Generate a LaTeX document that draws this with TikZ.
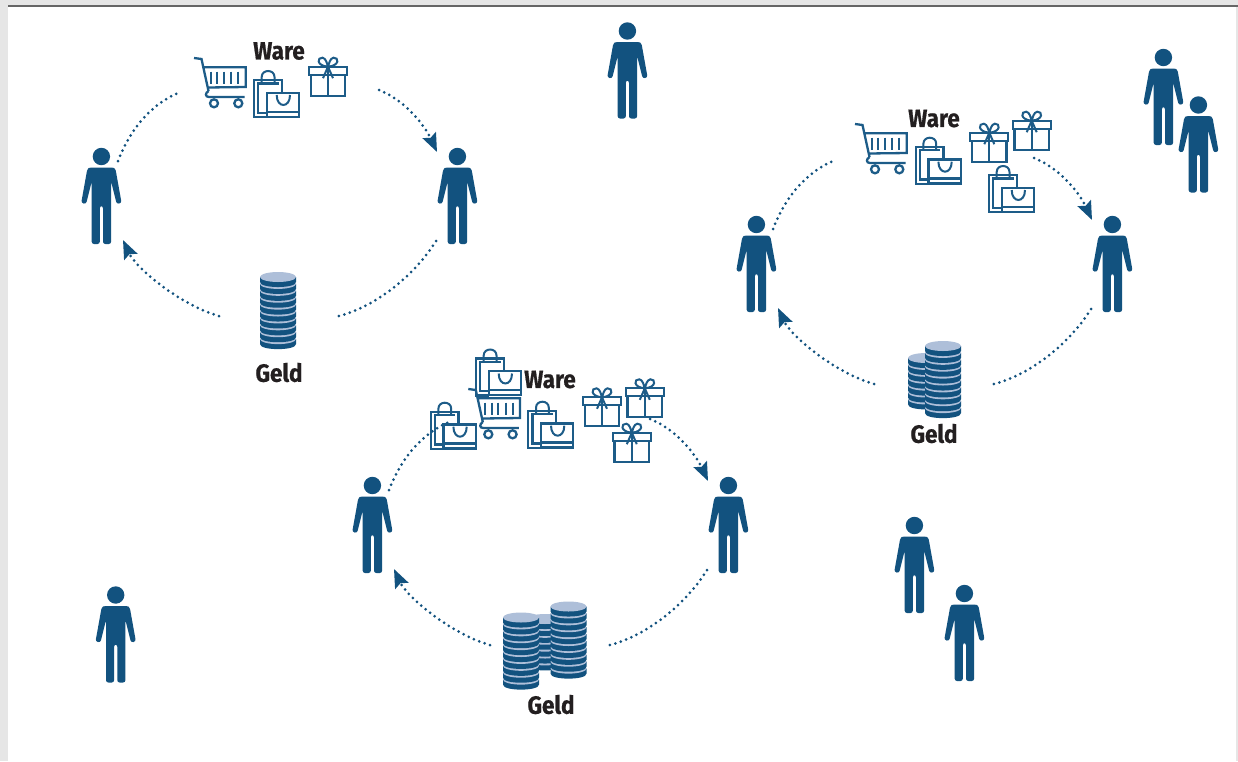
\documentclass[tikz,border=0pt]{standalone}
\usepackage{fontspec}
\setmainfont{Fira Sans}[FakeStretch=0.9,BoldFeatures={FakeBold=0.6}]
\usetikzlibrary{arrows.meta}
\definecolor{fig}{HTML}{12527F}
\definecolor{figline}{HTML}{1D5C88}
\definecolor{coinlight}{HTML}{AEBFD9}
\definecolor{pagegray}{HTML}{E6E6E6}
\definecolor{inkblack}{HTML}{231F20}
\tikzset{
  person/.pic={
    \fill[fig] (0,0) circle (8.7);
    \fill[fig,rounded corners=2.3pt]
      (-11,11) -- (-14,12) -- (-20.2,46.5) -- (-15.3,47.5) -- (-9.7,25) -- (-9.7,87.5) -- (-1.6,87.5) -- (-1.6,49.5)
      -- (1.6,49.5) -- (1.6,87.5) -- (9.7,87.5) -- (9.7,25) -- (15.3,47.5) -- (20.2,46.5) -- (14,12) -- (11,11) -- cycle;
  },
  icon/.style={draw=figline,line width=2.3pt,line join=miter},
  cart/.pic={
    \draw[icon] (0,0) -- (7.5,1) -- (14.5,33) (10,9.3) -- (51.7,9.3) -- (51.7,29) -- (13.5,29.5);
    \draw[icon] (14.5,33) .. controls (11,35) and (11,39) .. (15,39) -- (50.5,39);
    \draw[icon] (20,45.3) circle (4) (44.3,45.3) circle (4);
    \foreach \x in {16.7,23.3,30,37.3,44.3} \draw[icon,line width=2.1pt] (\x,13.7) -- (\x,26);
  },
  bag/.pic={
    \draw[icon] (12.7,37) -- (0,37) -- (0,0) -- (27.7,0) -- (27.7,12.7);
    \draw[icon] (12.7,32.8) -- (4.3,32.8) -- (4.3,3.6) -- (24.5,3.6);
    \draw[icon,line width=2pt] (7.7,3.6) -- (7.7,-3) .. controls (7.7,-11) and (20.5,-11) .. (20.5,-3) -- (20.5,3.6);
    \draw[icon,fill=white] (12.7,12.7) rectangle (45,36.7);
    \draw[icon] (12.7,31.7) -- (45,31.7);
    \draw[icon,line width=2pt] (22.7,15) .. controls (22.7,28.3) and (36,28.3) .. (36,15);
  },
  gift/.pic={
    \draw[icon,fill=white] (-17.3,8) rectangle (17.3,29);
    \draw[icon,fill=white] (-19,0) rectangle (19,8);
    \draw[icon] (0,0) -- (0,29);
    \draw[icon,line width=2pt] (0,0) .. controls (-12,-1) and (-11,-9.5) .. (-5.5,-9) .. controls (-2,-8.5) and (-1,-3) .. (0,0)
       .. controls (1,-3) and (2,-8.5) .. (5.5,-9) .. controls (11,-9.5) and (12,-1) .. (0,0) -- (-5,11.5) (0,0) -- (5,11.5);
  },
  coindisc/.pic={
    \fill[fig] (-18,0) -- (-18,5) .. controls (-18,11.7) and (18,11.7) .. (18,5) -- (18,0) -- cycle;
    \fill[coinlight] (0,0) ellipse (18 and 5);
  },
}
\newcommand{\coinstack}[4]{% x, y of top face, disc count, name
  \coordinate (#4) at (#1,#2);
  \foreach \i in {#3,...,1} {
    \pic at ([yshift=-{(\i-1)*6.9pt}]#4) {coindisc};
  }
}
\tikzset{
  flow/.style={draw=fig,line width=3pt,line cap=round,dash pattern=on 0pt off 5.7pt},
  flowarrow/.style={flow,-{Stealth[length=18.5pt,width=14.5pt,inset=3pt]}},
  label/.style={font=\bfseries\fontsize{25}{25}\selectfont,text=inkblack,inner sep=0pt},
}
\begin{document}
\begin{tikzpicture}[x=1pt,y=-1pt]
\useasboundingbox (0,0) rectangle (1238,761);
\fill[white] (0,0) rectangle (1238,761);
\fill[pagegray] (0,0) rectangle (1238,5);
\fill[pagegray] (0,0) rectangle (8,761);
\fill[pagegray] (1236,0) rectangle (1238,761);
\fill[black!60] (8,5.2) rectangle (1238,7);

% connectors of the three rings
\foreach \r/\dx/\dy in {a/0/0,b/655/68,c/271/329} {
  \begin{scope}[shift={(\dx,\dy)}]
    \coordinate (\r as) at (118,161); \coordinate (\r ae) at (178,93);
    \coordinate (\r bs) at (379,90);  \coordinate (\r be) at (437,152);
    \coordinate (\r cs) at (436,241); \coordinate (\r ce) at (335,317);
    \coordinate (\r ds) at (219,316); \coordinate (\r de) at (123,240);
    \coordinate (\r a1) at (130,130); \coordinate (\r a2) at (150,105);
    \coordinate (\r b1) at (405,100); \coordinate (\r b2) at (425,126);
    \coordinate (\r c1) at (415,275); \coordinate (\r c2) at (375,308);
    \coordinate (\r d1) at (180,305); \coordinate (\r d2) at (136,268);
  \end{scope}
  \draw[flow] (\r as) .. controls (\r a1) and (\r a2) .. (\r ae);
  \draw[flowarrow] (\r bs) .. controls (\r b1) and (\r b2) .. (\r be);
  \draw[flow] (\r cs) .. controls (\r c1) and (\r c2) .. (\r ce);
  \draw[flowarrow] (\r ds) .. controls (\r d1) and (\r d2) .. (\r de);
}

% people
\foreach \n/\px/\py in {p1/101.4/156.5,p2/457.4/156.5,p3/627.4/31,p4/1163.4/57.5,p5/1198.4/105,p6/756.4/224.5,p7/1112.4/224.5,p8/372.4/485.5,p9/728.4/485.5,p10/115.7/595,p11/914.4/525.5,p12/964.4/593.5} {
  \coordinate (\n) at (\px,\py);
  \pic at (\n) {person};
}

% ring 1 goods
\pic at (194,58) {cart};
\pic at (254,80) {bag};
\pic at (328,66.7) {gift};
\node[label] (ware1) at (279,51) {Ware};
\coinstack{278}{277}{10}{coinA}
\node[label] (geld1) at (279,372.5) {Geld};

% ring 2 goods
\pic at (855,124) {cart};
\pic at (915.7,146.7) {bag};
\pic at (989.3,132.7) {gift};
\pic at (1031.7,120.7) {gift};
\pic at (989,175) {bag};
\node[label] (ware2) at (934,118.5) {Ware};
\coinstack{926}{358}{7}{coinB}
\coinstack{943}{346}{10}{coinC}
\node[label] (geld2) at (934,433.5) {Geld};

% ring 3 goods
\pic at (468.3,389) {cart};
\pic at (476,358.5) {bag};
\pic at (430.7,411.7) {bag};
\pic at (528.3,410.7) {bag};
\pic at (602,397.3) {gift};
\pic at (644.8,388.3) {gift};
\pic at (631.8,432.7) {gift};
\node[label] (ware3) at (550,379.5) {Ware};
\coinstack{545}{619}{7}{coinD}
\coinstack{521}{617.5}{10}{coinE}
\coinstack{568.5}{606.5}{10}{coinF}
\node[label] (geld3) at (551,704.5) {Geld};
\end{tikzpicture}
\end{document}
